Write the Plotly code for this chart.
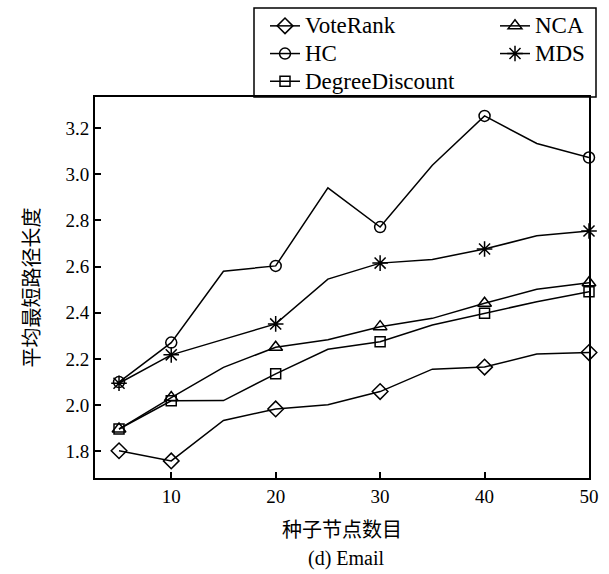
import plotly.graph_objects as go

# ---- data ----
seeds = [5, 10, 15, 20, 25, 30, 35, 40, 45, 50]
marker_seeds = [5, 10, 20, 30, 40, 50]

voterank = [1.803, 1.759, 1.934, 1.984, 2.002, 2.059, 2.156, 2.165, 2.222, 2.228]
hc = [2.100, 2.271, 2.580, 2.603, 2.941, 2.771, 3.039, 3.252, 3.133, 3.072]
degree_discount = [1.897, 2.019, 2.020, 2.136, 2.242, 2.275, 2.347, 2.398, 2.448, 2.491]
nca = [1.897, 2.033, 2.164, 2.251, 2.283, 2.340, 2.376, 2.441, 2.502, 2.530]
mds = [2.095, 2.218, 2.285, 2.352, 2.546, 2.615, 2.631, 2.676, 2.733, 2.754]

y_ticks = [1.8, 2.0, 2.2, 2.4, 2.6, 2.8, 3.0, 3.2]
x_ticks = [10, 20, 30, 40, 50]

series = [
    ("VoteRank", voterank, "diamond-open", 12, "legend"),
    ("HC", hc, "circle-open", 11, "legend"),
    ("DegreeDiscount", degree_discount, "square-open", 10, "legend"),
    ("NCA", nca, "triangle-up-open", 12, "legend2"),
    ("MDS", mds, "asterisk-open", 13, "legend2"),
]

SERIF = "Liberation Serif, Times New Roman, serif"
CJK = "Liberation Serif, Noto Sans CJK SC, serif"

fig = go.Figure()
for name, vals, sym, size, leg in series:
    # full line through all points
    fig.add_trace(go.Scatter(
        x=seeds, y=vals, mode="lines", showlegend=False,
        line=dict(color="black", width=1.5), cliponaxis=False, hoverinfo="skip"))
    # markers only at labelled seed counts
    mx = [s for s in seeds if s in marker_seeds]
    my = [v for s, v in zip(seeds, vals) if s in marker_seeds]
    fig.add_trace(go.Scatter(
        x=mx, y=my, mode="markers", showlegend=False, cliponaxis=False,
        marker=dict(symbol=sym, size=size, color="black",
                    line=dict(color="black", width=1.5))))
    # legend entry
    fig.add_trace(go.Scatter(
        x=[None], y=[None], mode="lines+markers",
        name='<span style="font-size:23px">%s</span>' % name, legend=leg,
        line=dict(color="black", width=1.5),
        marker=dict(symbol=sym, size=size, color="black",
                    line=dict(color="black", width=1.5))))

W, H = 609, 574
ml, mr, mt, mb = 95, 20, 97, 96
pw, ph = W - ml - mr, H - mt - mb

def px(x):
    return (x - ml) / pw

def py(y):
    return (H - mb - y) / ph

fig.update_layout(
    width=W, height=H,
    margin=dict(l=ml, r=mr, t=mt, b=mb, autoexpand=False),
    plot_bgcolor="white", paper_bgcolor="white",
    font=dict(family=SERIF, size=19, color="black"),
    showlegend=True,
    legend=dict(x=px(265), y=py(7), xanchor="left", yanchor="top",
                bgcolor="rgba(0,0,0,0)", borderwidth=0,
                font=dict(family=SERIF, size=19, color="black"),
                tracegroupgap=0),
    legend2=dict(x=px(495), y=py(7), xanchor="left", yanchor="top",
                 bgcolor="rgba(0,0,0,0)", borderwidth=0,
                 font=dict(family=SERIF, size=19, color="black"),
                 tracegroupgap=0),
    xaxis=dict(range=[2.7, 50], tickvals=x_ticks, ticks="inside", ticklen=6,
               tickwidth=1.5, tickcolor="black", showline=True, linewidth=2,
               linecolor="black", mirror=True, showgrid=False, zeroline=False,
               automargin=False,
               tickfont=dict(family=SERIF, size=19, color="black"),
               title=dict(text="种子节点数目",
                          font=dict(family=CJK, size=20, color="black"),
                          standoff=17)),
    yaxis=dict(range=[1.685, 3.334], tickvals=y_ticks, tickformat=".1f",
               ticks="inside", ticklen=6, tickwidth=1.5, tickcolor="black",
               showline=True, linewidth=2, linecolor="black", mirror=True,
               showgrid=False, zeroline=False, automargin=False,
               tickfont=dict(family=SERIF, size=19, color="black"),
               title=dict(text="平均最短路径长度",
                          font=dict(family=CJK, size=20, color="black"),
                          standoff=20)),
    shapes=[dict(type="rect", xref="paper", yref="paper",
                 x0=px(254), x1=px(596), y0=py(97), y1=py(8),
                 line=dict(color="black", width=1.5), fillcolor="rgba(0,0,0,0)",
                 layer="above")],
    annotations=[dict(text="(d) Email", xref="paper", yref="paper",
                      x=px(346), y=py(558), showarrow=False,
                      xanchor="center", yanchor="middle",
                      font=dict(family=SERIF, size=20, color="black"))],
)

fig.write_html("out.html")
